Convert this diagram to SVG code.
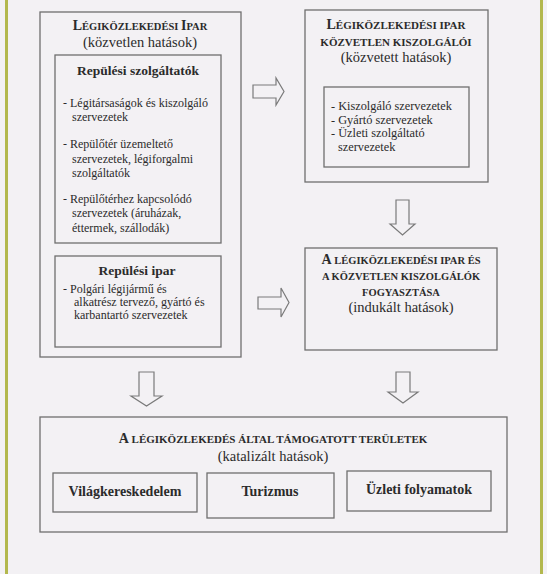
<svg xmlns="http://www.w3.org/2000/svg" width="547" height="574" viewBox="0 0 547 574">
<style>
.bg{fill:#f3f1f4}
.edge{fill:#b3b84e}
.box{fill:none;stroke:#6f6f6f;stroke-width:1.3}
.arr{fill:none;stroke:#7a7a7a;stroke-width:1.2;stroke-linejoin:miter}
text{font-family:"Liberation Serif","Times New Roman",serif;fill:#2b2b2b}
.sc{font-weight:bold;font-size:10.5px}
.sc2{font-weight:bold;font-size:11px}
.big{font-size:14px}
.sub{font-size:14.5px;text-anchor:middle}
.hd{font-size:13.5px;font-weight:bold;text-anchor:middle}
.hd2{font-size:14px;font-weight:bold;text-anchor:middle}
.bl{font-size:12px}
.bl2{font-size:12.3px}
.mid{text-anchor:middle}
</style>
<rect class="bg" x="0" y="0" width="547" height="574"/>
<rect class="edge" x="5" y="0" width="3" height="574"/>
<rect class="edge" x="540" y="0" width="3" height="574"/>

<g id="n-direct">
<rect class="box" x="40" y="12" width="201" height="345"/>
<text class="sc mid" x="140" y="30"><tspan class="big">L</tspan>ÉGIKÖZLEKEDÉSI <tspan class="big">I</tspan>PAR</text>
<text class="sub" x="140" y="47">(közvetlen hatások)</text>
</g>

<g id="n-services">
<rect class="box" x="55" y="55" width="166" height="188"/>
<text class="hd" x="138" y="75">Repülési szolgáltatók</text>
<text class="bl" x="63" y="107">- Légitársaságok és kiszolgáló</text>
<text class="bl" x="72" y="121">szervezetek</text>
<text class="bl" x="63" y="148">- Repülőtér üzemeltető</text>
<text class="bl" x="72" y="163">szervezetek, légiforgalmi</text>
<text class="bl" x="72" y="177">szolgáltatók</text>
<text class="bl" x="63" y="203">- Repülőtérhez kapcsolódó</text>
<text class="bl" x="72" y="217">szervezetek (áruházak,</text>
<text class="bl" x="72" y="232">éttermek, szállodák)</text>
</g>

<g id="n-industry">
<rect class="box" x="55" y="256" width="166" height="91"/>
<text class="hd" x="137" y="275">Repülési ipar</text>
<text class="bl" x="63" y="293">- Polgári légijármű és</text>
<text class="bl" x="74" y="306">alkatrész tervező, gyártó és</text>
<text class="bl" x="74" y="319">karbantartó szervezetek</text>
</g>

<g id="n-indirect">
<rect class="box" x="305" y="10" width="183" height="172"/>
<text class="sc2 mid" x="396" y="29"><tspan class="big">L</tspan>ÉGIKÖZLEKEDÉSI IPAR</text>
<text class="sc2 mid" x="396" y="46">KÖZVETLEN KISZOLGÁLÓI</text>
<text class="sub" x="396" y="62">(közvetett hatások)</text>
<rect class="box" x="324" y="87" width="145" height="80"/>
<text class="bl2" x="331" y="110">- Kiszolgáló szervezetek</text>
<text class="bl2" x="331" y="123.5">- Gyártó szervezetek</text>
<text class="bl2" x="331" y="137">- Üzleti szolgáltató</text>
<text class="bl2" x="338" y="150.5">szervezetek</text>
</g>

<g id="n-induced">
<rect class="box" x="305" y="248" width="192" height="102"/>
<text class="sc mid" x="401" y="264"><tspan class="big">A</tspan> LÉGIKÖZLEKEDÉSI IPAR ÉS</text>
<text class="sc mid" x="401" y="280">A KÖZVETLEN KISZOLGÁLÓK</text>
<text class="sc mid" x="401" y="296">FOGYASZTÁSA</text>
<text class="sub" x="401" y="312">(indukált hatások)</text>
</g>

<g id="n-catalytic">
<rect class="box" x="40" y="417" width="467" height="115"/>
<text class="sc2 mid" x="273" y="443"><tspan class="big">A</tspan> LÉGIKÖZLEKEDÉS ÁLTAL TÁMOGATOTT TERÜLETEK</text>
<text class="sub" x="273" y="461">(katalizált hatások)</text>
</g>
<g id="n-trade">
<rect class="box" x="53" y="473" width="144" height="39"/>
<text class="hd2" x="125" y="496">Világkereskedelem</text>
</g>
<g id="n-tourism">
<rect class="box" x="207" y="473" width="127" height="45"/>
<text class="hd2" x="270" y="496">Turizmus</text>
</g>
<g id="n-business">
<rect class="box" x="347" y="471" width="144" height="40"/>
<text class="hd2" x="419" y="494">Üzleti folyamatok</text>
</g>

<g id="connectors">
<polygon class="arr" points="253,85 276,85 276,78 284,91.5 276,105 276,98 253,98"/>
<polygon class="arr" points="258,297 281,297 281,288 289,302.5 281,317 281,309 258,309"/>
<polygon class="arr" points="396,200 409,200 409,224 415,224 402.5,235 390,224 396,224"/>
<polygon class="arr" points="139,372 154,372 154,396 162,396 146.5,406 131,396 139,396"/>
<polygon class="arr" points="396,372 410,372 410,392 418,392 403,403 388,392 396,392"/>
</g>
</svg>
